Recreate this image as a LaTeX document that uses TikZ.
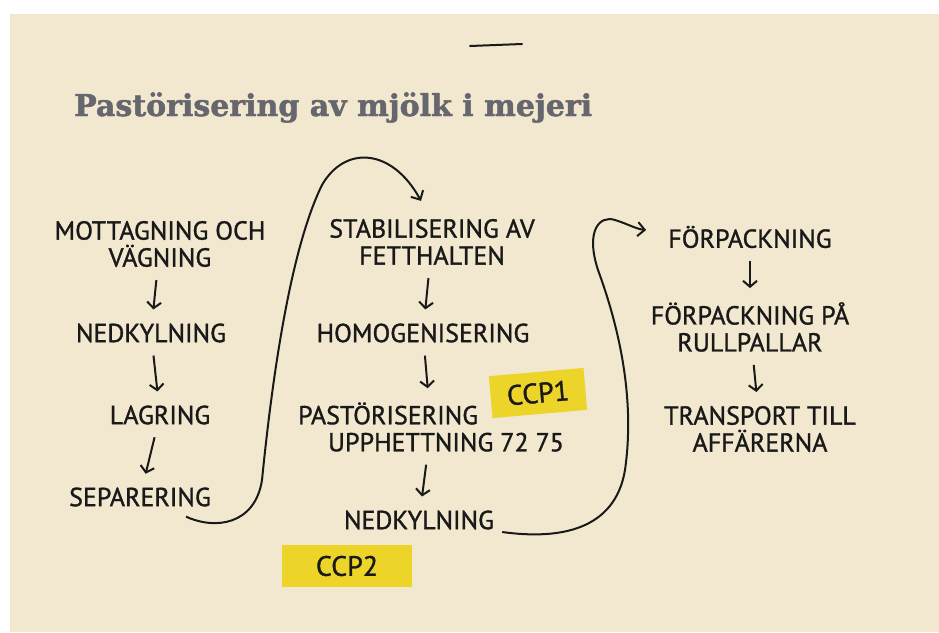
\documentclass[tikz,border=0pt]{standalone}
\usepackage{fontspec}
\setmainfont{PT Sans}
\newfontfamily\hand{PT Sans}[FakeBold=1.2]
\newfontfamily\rubrikfont{DejaVu Serif}[BoldFeatures={FakeBold=1.6}]
\usetikzlibrary{arrows.meta,calc}

\begin{document}
\begin{tikzpicture}[x=1pt,y=-1pt,
  steg/.style={font=\hand\fontsize{26}{27}\selectfont,text=ink,align=center,inner sep=0pt},
  pil/.style={draw=ink,line width=2pt,-{Straight Barb[length=6pt,width=14pt]},shorten <=13pt,shorten >=14pt},
  kurva/.style={draw=ink,line width=2pt,-{Straight Barb[length=7pt,width=14pt]}},
  ccp/.style={fill=gul,text=ink,font=\hand\fontsize{28}{29}\selectfont,minimum height=42pt,inner sep=0pt}]
\definecolor{papper}{rgb}{0.95,0.91,0.81}
\definecolor{ink}{rgb}{0.10,0.10,0.10}
\definecolor{gul}{rgb}{0.93,0.83,0.16}
\definecolor{rubrik}{rgb}{0.40,0.40,0.43}
\useasboundingbox (0,0) rectangle (939,632);
\fill[white] (0,0) rectangle (939,632);
\fill[papper] (10,14) rectangle (939,632);
\draw[ink,line width=2pt,line cap=round] (470,46) -- (522,44);
\node[anchor=base west,inner sep=0pt,text=rubrik,font=\rubrikfont\bfseries\fontsize{30}{34}\selectfont] (titel) at (74,116) {Pastörisering av mjölk i mejeri};
% markeringar
\node[ccp,rotate=5,minimum width=95pt] (ccp1) at (538,393) {CCP1};
\node[ccp,minimum width=130pt] (ccp2) at (347,566) {CCP2};
% steg
\node[steg] (mot) at (160,244) {MOTTAGNING OCH\\VÄGNING};
\node[steg] (ned1) at (151,333) {NEDKYLNING};
\node[steg] (lag) at (160,415) {LAGRING};
\node[steg] (sep) at (140,497) {SEPARERING};
\node[steg] (stab) at (432,242) {STABILISERING AV\\FETTHALTEN};
\node[steg] (hom) at (423,333) {HOMOGENISERING};
\node[steg,align=left] (past) at (431,427) {PASTÖRISERING\\\hspace*{30pt}UPPHETTNING 72 75};
\node[steg] (ned2) at (419,520) {NEDKYLNING};
\node[steg] (forp) at (750,237) {FÖRPACKNING};
\node[steg] (rull) at (750,327) {FÖRPACKNING PÅ\\RULLPALLAR};
\node[steg] (trans) at (760,429) {TRANSPORT TILL\\AFFÄRERNA};
% pilar
\draw[pil] (mot) -- (ned1);
\draw[pil] (ned1) -- (lag);
\draw[pil] (lag) -- (sep);
\draw[pil] (stab) -- (hom);
\draw[pil] (hom) -- (past);
\draw[pil] (past) -- (ned2);
\draw[pil] (forp) -- (rull);
\draw[pil] (rull) -- (trans);
% kurvor
\draw[kurva] ([shift={(-25,10)}]sep.south east) .. controls (215,530) and (255,525) .. (262,480)
  .. controls (272,380) and (290,250) .. (322,185) .. controls (345,145) and (392,148) .. ([shift={(-11,-18)}]stab.north);
\draw[kurva] ([shift={(8,12)}]ned2.east) .. controls (560,540) and (615,530) .. (625,470)
  .. controls (635,400) and (620,330) .. (598,270) .. controls (585,230) and (600,215) .. (615,220)
  .. controls (628,224) and (636,229) .. ([shift={(-22,-7)}]forp.west);
\end{tikzpicture}
\end{document}
